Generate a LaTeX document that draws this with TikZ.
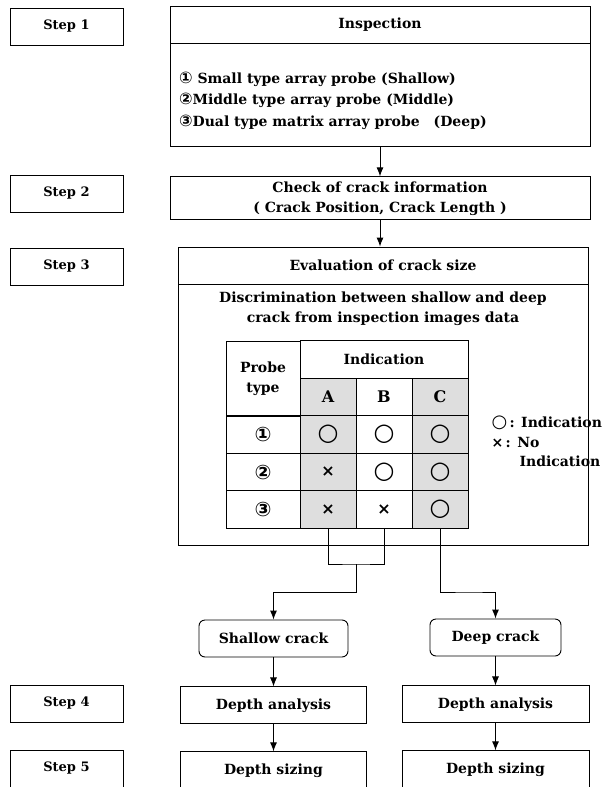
\documentclass[tikz,border=0pt]{standalone}
\usepackage{fontspec}
\setmainfont{DejaVu Serif}
\newfontfamily\dvsans{DejaVu Sans}
\usetikzlibrary{positioning,arrows.meta}
\newcommand\dvs[1]{{\dvsans #1}}
\newcommand\cir{{\dvsans\bfseries\fontsize{24}{24}\selectfont ○}}
\newcommand\crs{{\dvsans\bfseries\fontsize{16}{16}\selectfont ×}}

\begin{document}
\begin{tikzpicture}[x=1pt,y=-1pt,node distance=29pt,
    font=\bfseries\fontsize{14}{20}\selectfont,
    box/.style={draw,line width=0.9pt,inner sep=0pt,align=center},
    stepbox/.style={box,minimum width=113pt,minimum height=37pt,font=\bfseries\fontsize{13}{15}\selectfont},
    cell/.style={box,minimum width=56pt,minimum height=37.5pt},
    shade/.style={fill=black!13},
    nofill/.style={},
    crack/.style={box,rounded corners=6pt,minimum height=37pt},
    line/.style={line width=0.9pt},
    flow/.style={line,-{Latex[length=9pt,width=7pt]}}]
  \useasboundingbox (0,0) rectangle (605,787);
  % steps on the left
  \node[stepbox] (step1) at (66.5,26.5) {Step 1};
  \node[stepbox] (step2) at (66.5,193.5) {Step 2};
  \node[stepbox] (step3) at (66.5,266.5) {Step 3};
  \node[stepbox] (step4) at (66.5,703.5) {Step 4};
  \node[stepbox] (step5) at (66.5,768.5) {Step 5};
  % inspection
  \node[box,minimum width=420pt,minimum height=37pt] (insp) at (380,24.5) {Inspection};
  \node[box,minimum width=420pt,minimum height=103pt,below=0pt of insp] (probes) {};
  \node[anchor=west,align=left,font=\bfseries\fontsize{14}{21.5}\selectfont]
    (probelist) at ([xshift=6pt,yshift=-5pt]probes.west)
    {\dvs{\fontsize{16}{16}\selectfont①} Small type array probe (Shallow)\\
     \dvs{\fontsize{16}{16}\selectfont②}Middle type array probe (Middle)\\
     \dvs{\fontsize{16}{16}\selectfont③}Dual type matrix array probe\quad(Deep)};
  \node[box,minimum width=420pt,minimum height=43pt,below=29pt of probes] (check)
    {Check of crack information\\( Crack Position, Crack Length )};
  % evaluation
  \node[box,minimum width=410pt,minimum height=37pt] (evalhead) at (383,265.5) {Evaluation of crack size};
  \node[box,minimum width=410pt,minimum height=261pt,below=0pt of evalhead] (evalbody) {};
  \node[align=center] (discr) at (383,309)
    {Discrimination between shallow and deep\\crack from inspection images data};
  \path (probes) edge[flow] (check)
        (check.south) edge[flow] (check.south |- evalhead.north);
  % table
  \node[cell,minimum width=74pt,minimum height=75pt] (probe) at (263,378.5) {Probe\\type};
  \node[cell,minimum width=168pt] (indic) at (384,359.5) {Indication};
  \foreach \c/\x/\s in {A/328/shade,B/384/nofill,C/440/shade}
    \node[cell,\s] (h\c) at (\x,397) {\fontsize{16}{16}\selectfont\c};
  \foreach \r/\y/\m/\va/\vb/\vc in {1/434.5/①/\cir/\cir/\cir,2/472/②/\crs/\cir/\cir,3/509.5/③/\crs/\crs/\cir}{
    \node[cell,minimum width=74pt] (p\r) at (263,\y) {\dvs{\fontsize{20}{20}\selectfont\m}};
    \node[cell,shade] (a\r) at (328,\y) {\va};
    \node[cell] (b\r) at (384,\y) {\vb};
    \node[cell,shade] (c\r) at (440,\y) {\vc};
  }
  % legend
  \node[anchor=west] (leg1) at (488,423) {\dvs{\bfseries\fontsize{18}{18}\selectfont○}\,: Indication};
  \node[anchor=west] (leg2) at (488,442) {\dvs{×}\,: No};
  \node[anchor=west] (leg3) at (516,461) {Indication};
  % results
  \node[crack,minimum width=149pt] (shallow) at (273.5,638.5) {Shallow crack};
  \node[crack,minimum width=131pt] (deep) at (495.5,637.5) {Deep crack};
  \node[box,minimum width=186pt,minimum height=37pt,below=of shallow] (ana1) {Depth analysis};
  \node[box,minimum width=187pt,minimum height=37pt,below=of deep] (ana2) {Depth analysis};
  \node[box,minimum width=186pt,minimum height=38pt,below=27pt of ana1] (size1) {Depth sizing};
  \node[box,minimum width=187pt,minimum height=38pt,below=27pt of ana2] (size2) {Depth sizing};
  % connectors
  \coordinate (abjoin) at (356,564);
  \coordinate (abturn) at (356,592);
  \coordinate (cturn) at (470,592);
  \draw[line] (a3.south) |- (abjoin) -| (b3.south);
  \draw[flow] (abjoin) -- (abturn) -| (shallow.north);
  \draw[flow] (c3.south) |- (cturn) -| (deep.north);
  \path (shallow) edge[flow] (ana1)
        (ana1) edge[flow] (size1)
        (deep) edge[flow] (ana2)
        (ana2) edge[flow] (size2);
\end{tikzpicture}
\end{document}
